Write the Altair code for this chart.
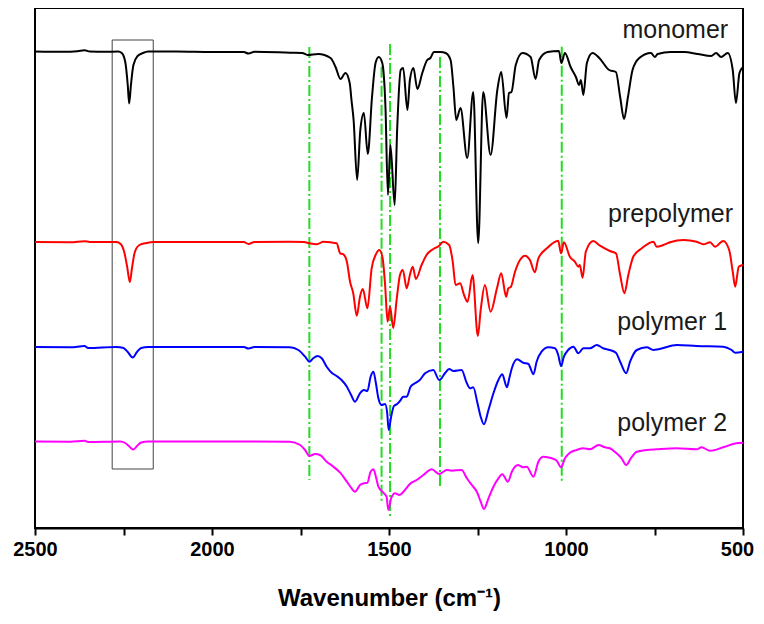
import altair as alt
import pandas as pd

# ---------------- data (wavenumber, intensity in a.u. with vertical offsets) ----------------
mono_w = [2500, 2420, 2380, 2360, 2345, 2300, 2265, 2255, 2245, 2238, 2234, 2229, 2222, 2210, 2195, 2180,
          2100, 2000, 1910, 1897, 1880, 1779, 1745, 1730, 1700, 1665, 1651, 1637, 1623, 1611, 1606, 1600,
          1590, 1581, 1571, 1560, 1548, 1538, 1529, 1519, 1510, 1503, 1496, 1484, 1477, 1467, 1460, 1448,
          1441, 1431, 1420, 1406, 1392, 1383, 1373, 1354, 1340, 1326, 1318, 1310, 1298, 1279, 1262, 1248,
          1234, 1213, 1194, 1183, 1168, 1161, 1154, 1142, 1123, 1100, 1086, 1076, 1052, 1020, 1013, 1003,
          987, 972, 963, 958, 951, 941, 925, 906, 878, 859, 847, 836, 825, 812, 793, 760, 749, 741, 704,
          666, 628, 590, 576, 562, 543, 529, 520, 510, 500]
mono_v = [47.65, 47.62, 47.68, 47.77, 47.65, 47.62, 47.65, 47.5, 46.6, 44.3, 42.45, 44.3, 46.3, 47.2, 47.5, 47.65,
          47.65, 47.6, 47.6, 47.45, 47.62, 47.53, 47.5, 47.3, 47.4, 47.0, 46.1, 44.9, 45.5, 44.5, 42.8, 40.8,
          34.8, 39.8, 41.5, 37.4, 43.1, 46.5, 47.1, 46.5, 42.1, 33.3, 38.3, 32.3, 39.8, 45.8, 46.0, 41.8,
          44.8, 46.0, 43.9, 45.5, 46.8, 47.0, 47.6, 47.6, 47.5, 46.8, 44.1, 40.8, 42.0, 37.0, 43.6, 28.5,
          43.6, 37.3, 43.8, 45.6, 41.0, 43.5, 43.6, 46.3, 47.5, 47.1, 44.9, 46.8, 47.6, 47.7, 46.5, 47.5,
          46.1, 45.1, 44.3, 44.8, 43.3, 46.5, 47.5, 47.0, 45.8, 45.6, 43.1, 40.9, 43.1, 45.8, 47.0, 47.5, 47.1, 47.4, 47.6,
          47.6, 47.4, 47.2, 47.5, 47.1, 47.5, 45.8, 42.5, 45.5, 46.1]

pre_w = [2500, 2400, 2360, 2345, 2270, 2258, 2248, 2240, 2232, 2226, 2218, 2205, 2185, 2165, 2000, 1910,
         1897, 1880, 1780, 1740, 1725, 1704, 1685, 1648, 1638, 1629, 1619, 1610, 1601, 1591, 1582, 1574,
         1561, 1549, 1537, 1527, 1518, 1511, 1504, 1497, 1488, 1478, 1469, 1461, 1450, 1441, 1433, 1424,
         1408, 1394, 1375, 1358, 1347, 1330, 1320, 1312, 1299, 1288, 1278, 1264, 1249, 1241, 1229, 1213,
         1195, 1183, 1169, 1163, 1156, 1144, 1130, 1116, 1102, 1088, 1078, 1054, 1022, 1014, 1006, 989,
         975, 965, 961, 953, 944, 923, 904, 876, 859, 847, 835, 824, 810, 786, 753, 744, 725, 706, 668,
         631, 612, 593, 579, 556, 539, 529, 522, 512, 500]
pre_v = [28.6, 28.57, 28.68, 28.6, 28.6, 28.4, 27.6, 26.2, 24.6, 26.0, 27.6, 28.3, 28.5, 28.6, 28.6, 28.6,
         28.4, 28.6, 28.63, 28.6, 28.47, 28.37, 28.63, 28.47, 27.47, 27.37, 26.63, 24.63, 23.47, 21.23, 23.13, 23.9,
         21.97, 25.97, 27.37, 27.8, 26.97, 24.3, 20.63, 22.13, 20.0, 22.97, 25.3, 25.8, 23.97, 25.3, 26.13, 24.9,
         26.3, 27.3, 27.9, 28.23, 28.63, 28.3, 26.63, 24.3, 24.47, 23.3, 22.63, 25.3, 19.2, 21.8, 24.3, 21.63,
         23.97, 25.47, 23.13, 23.97, 24.1, 25.63, 26.8, 27.23, 26.8, 25.57, 26.97, 27.97, 28.73, 27.47, 28.57, 27.13,
         26.63, 26.13, 26.3, 25.03, 27.63, 28.7, 28.23, 27.7, 27.47, 25.3, 23.47, 25.3, 27.13, 27.97, 28.63, 28.13, 28.3, 28.57, 28.8,
         28.63, 28.37, 28.57, 28.13, 28.7, 27.8, 25.63, 24.13, 26.13, 26.3]

p1_w = [2500, 2400, 2360, 2350, 2270, 2250, 2238, 2224, 2212, 2200, 2180, 2000, 1910, 1897, 1880, 1780,
        1756, 1737, 1725, 1714, 1702, 1690, 1676, 1662, 1648, 1634, 1619, 1607, 1596, 1582, 1571, 1561,
        1552, 1544, 1537, 1530, 1521, 1511, 1505, 1501, 1494, 1486, 1477, 1467, 1460, 1450, 1439, 1427,
        1413, 1398, 1375, 1358, 1342, 1330, 1318, 1295, 1280, 1271, 1262, 1250, 1241, 1232, 1219, 1205,
        1191, 1180, 1167, 1160, 1153, 1138, 1121, 1106, 1102, 1092, 1083, 1069, 1050, 1031, 1022, 1014,
        1006, 994, 979, 965, 951, 932, 913, 895, 876, 859, 847, 830, 819, 800, 772, 753, 739, 687, 631,
        556, 532, 522, 500]
p1_v = [18.1, 18.07, 18.2, 18.0, 18.1, 18.0, 17.6, 17.05, 17.6, 18.0, 18.1, 18.1, 18.1, 17.95, 18.1, 18.07,
        17.8, 17.13, 16.63, 16.97, 17.2, 16.97, 16.13, 15.53, 15.2, 14.8, 14.13, 13.3, 12.63, 13.47, 13.8, 13.7,
        15.13, 15.63, 14.47, 12.97, 12.3, 12.4, 11.47, 9.8, 11.13, 12.2, 12.4, 12.8, 13.13, 13.13, 14.13, 14.47,
        14.8, 15.47, 15.8, 14.8, 15.47, 15.9, 15.7, 15.8, 14.47, 13.97, 14.07, 12.47, 11.13, 10.37, 11.8, 13.47,
        14.8, 15.37, 14.07, 15.0, 15.97, 16.87, 16.53, 16.4, 16.13, 15.37, 16.63, 17.63, 18.07, 17.97, 17.3, 16.2,
        17.13, 17.8, 18.13, 17.47, 17.97, 17.97, 18.3, 17.97, 17.8, 17.53, 16.63, 15.47, 16.63, 17.8, 18.07, 17.8, 17.87, 18.3, 18.2,
        18.13, 17.8, 17.53, 17.63]

p2_w = [2500, 2400, 2360, 2350, 2260, 2245, 2232, 2222, 2212, 2200, 2180, 2000, 1900, 1780, 1751, 1737,
        1725, 1709, 1695, 1676, 1657, 1638, 1619, 1607, 1596, 1582, 1571, 1561, 1552, 1544, 1537, 1530,
        1516, 1507, 1502, 1494, 1483, 1471, 1455, 1441, 1422, 1403, 1379, 1358, 1337, 1323, 1295, 1280,
        1266, 1252, 1241, 1232, 1219, 1205, 1191, 1180, 1164, 1153, 1136, 1121, 1111, 1092, 1078, 1064,
        1040, 1026, 1014, 1003, 989, 970, 951, 932, 908, 890, 876, 859, 843, 830, 817, 800, 772, 744,
        687, 631, 617, 593, 556, 519, 500]
p2_v = [8.65, 8.63, 8.72, 8.6, 8.65, 8.5, 8.1, 7.85, 8.2, 8.55, 8.65, 8.65, 8.65, 8.63, 8.3, 7.8,
        7.2, 7.4, 7.3, 6.63, 6.13, 5.53, 4.63, 4.03, 3.63, 4.3, 4.47, 4.53, 5.63, 5.87, 5.13, 4.13,
        3.53, 3.13, 1.8, 2.97, 3.47, 3.3, 3.8, 4.4, 4.8, 5.3, 5.87, 5.4, 5.8, 5.73, 5.8, 4.97,
        4.3, 3.63, 2.63, 1.9, 2.97, 4.13, 4.97, 5.37, 4.63, 5.63, 6.3, 6.07, 6.13, 5.13, 6.63, 7.13,
        6.97, 6.73, 6.07, 6.97, 7.53, 7.8, 7.97, 7.87, 8.3, 8.07, 7.97, 7.53, 6.97, 6.3, 6.97, 7.63, 7.8, 7.87,
        7.97, 7.87, 8.07, 7.73, 8.07, 8.47, 8.53]

series_names = ["monomer", "prepolymer", "polymer 1", "polymer 2"]
series_colors = ["#000000", "#ff0000", "#0000ff", "#ff00ff"]

# green dash-dot marker lines: wavenumber, top, bottom
mark_w = [1725, 1521, 1497, 1356, 1012]
mark_top = [48.1, 46.13, 48.4, 47.1, 48.13]
mark_bot = [4.8, 2.63, 1.13, 4.13, 4.63]

# boxed region (C≡N band)
box_w = [2282, 2166]
box_v = [48.8, 5.9]

# labels
label_text = ["monomer", "prepolymer", "polymer 1", "polymer 2"]
label_w = [542, 528, 545, 545]
label_v = [49.0, 30.63, 19.8, 9.7]

# ---------------- build tables ----------------
rows = []
for name, ws, vs in zip(series_names, [mono_w, pre_w, p1_w, p2_w], [mono_v, pre_v, p1_v, p2_v]):
    for w, v in zip(ws, vs):
        rows.append({"series": name, "w": w, "v": v})
spec = pd.DataFrame(rows)
marks = pd.DataFrame({"w": mark_w, "top": mark_top, "bot": mark_bot})
box = pd.DataFrame({"w1": [box_w[0]], "w2": [box_w[1]], "v1": [box_v[0]], "v2": [box_v[1]]})
labels = pd.DataFrame({"t": label_text, "w": label_w, "v": label_v})

xscale = alt.Scale(domain=[500, 2500], reverse=True, nice=False, zero=False)
yscale = alt.Scale(domain=[0, 52], nice=False, zero=False)

x_axis = alt.Axis(values=[2500, 2250, 2000, 1750, 1500, 1250, 1000, 750, 500],
                  labelExpr="datum.value % 500 == 0 ? datum.label : ''",
                  format="d", tickSize=7, tickColor="#000", tickWidth=2,
                  domainColor="#000", domainWidth=2, grid=False,
                  labelFont="Liberation Sans",
                  labelFontSize=20, labelFontWeight="bold", labelColor="#000",
                  labelPadding=4, labelFlush=False,
                  labelOffset={"condition": {"test": "datum.value == 500", "value": -6}, "value": 0},
                  title="Wavenumber (cm\u207b\u00b9)",
                  titleFont="Liberation Sans",
                  titleFontSize=24, titleFontWeight="bold", titleColor="#000", titlePadding=27)


def X(field):
    return alt.X(field, type="quantitative", scale=xscale, axis=x_axis)


def Y(field):
    return alt.Y(field, type="quantitative", scale=yscale, axis=None)


lines = alt.Chart(spec).mark_line(strokeWidth=2, interpolate="monotone").encode(
    x=X("w"),
    y=Y("v"),
    color=alt.Color("series:N", scale=alt.Scale(domain=series_names, range=series_colors), legend=None),
)

green = alt.Chart(marks).mark_rule(color="#22dd22", strokeWidth=2, strokeDash=[11, 3, 2, 3]).encode(
    x=X("w"),
    y=Y("top"),
    y2=alt.Y2("bot"),
)

rect = alt.Chart(box).mark_rect(fill="transparent", stroke="#444444", strokeWidth=1).encode(
    x=X("w1"),
    x2=alt.X2("w2"),
    y=Y("v1"),
    y2=alt.Y2("v2"),
)

text = alt.Chart(labels).mark_text(align="right", baseline="alphabetic", fontSize=25,
                                   font="Liberation Sans", color="#1a1a1a").encode(
    x=X("w"),
    y=Y("v"),
    text=alt.Text("t:N"),
)

chart = alt.layer(rect, green, lines, text).properties(
    width=708, height=520,
    background="white",
    autosize=alt.AutoSizeParams(type="none"),
    padding={"left": 27, "top": 0, "right": 13, "bottom": 88},
).configure_view(stroke="#000", strokeWidth=2)

chart.save("out.html", embed_options={"renderer": "svg", "actions": False})
